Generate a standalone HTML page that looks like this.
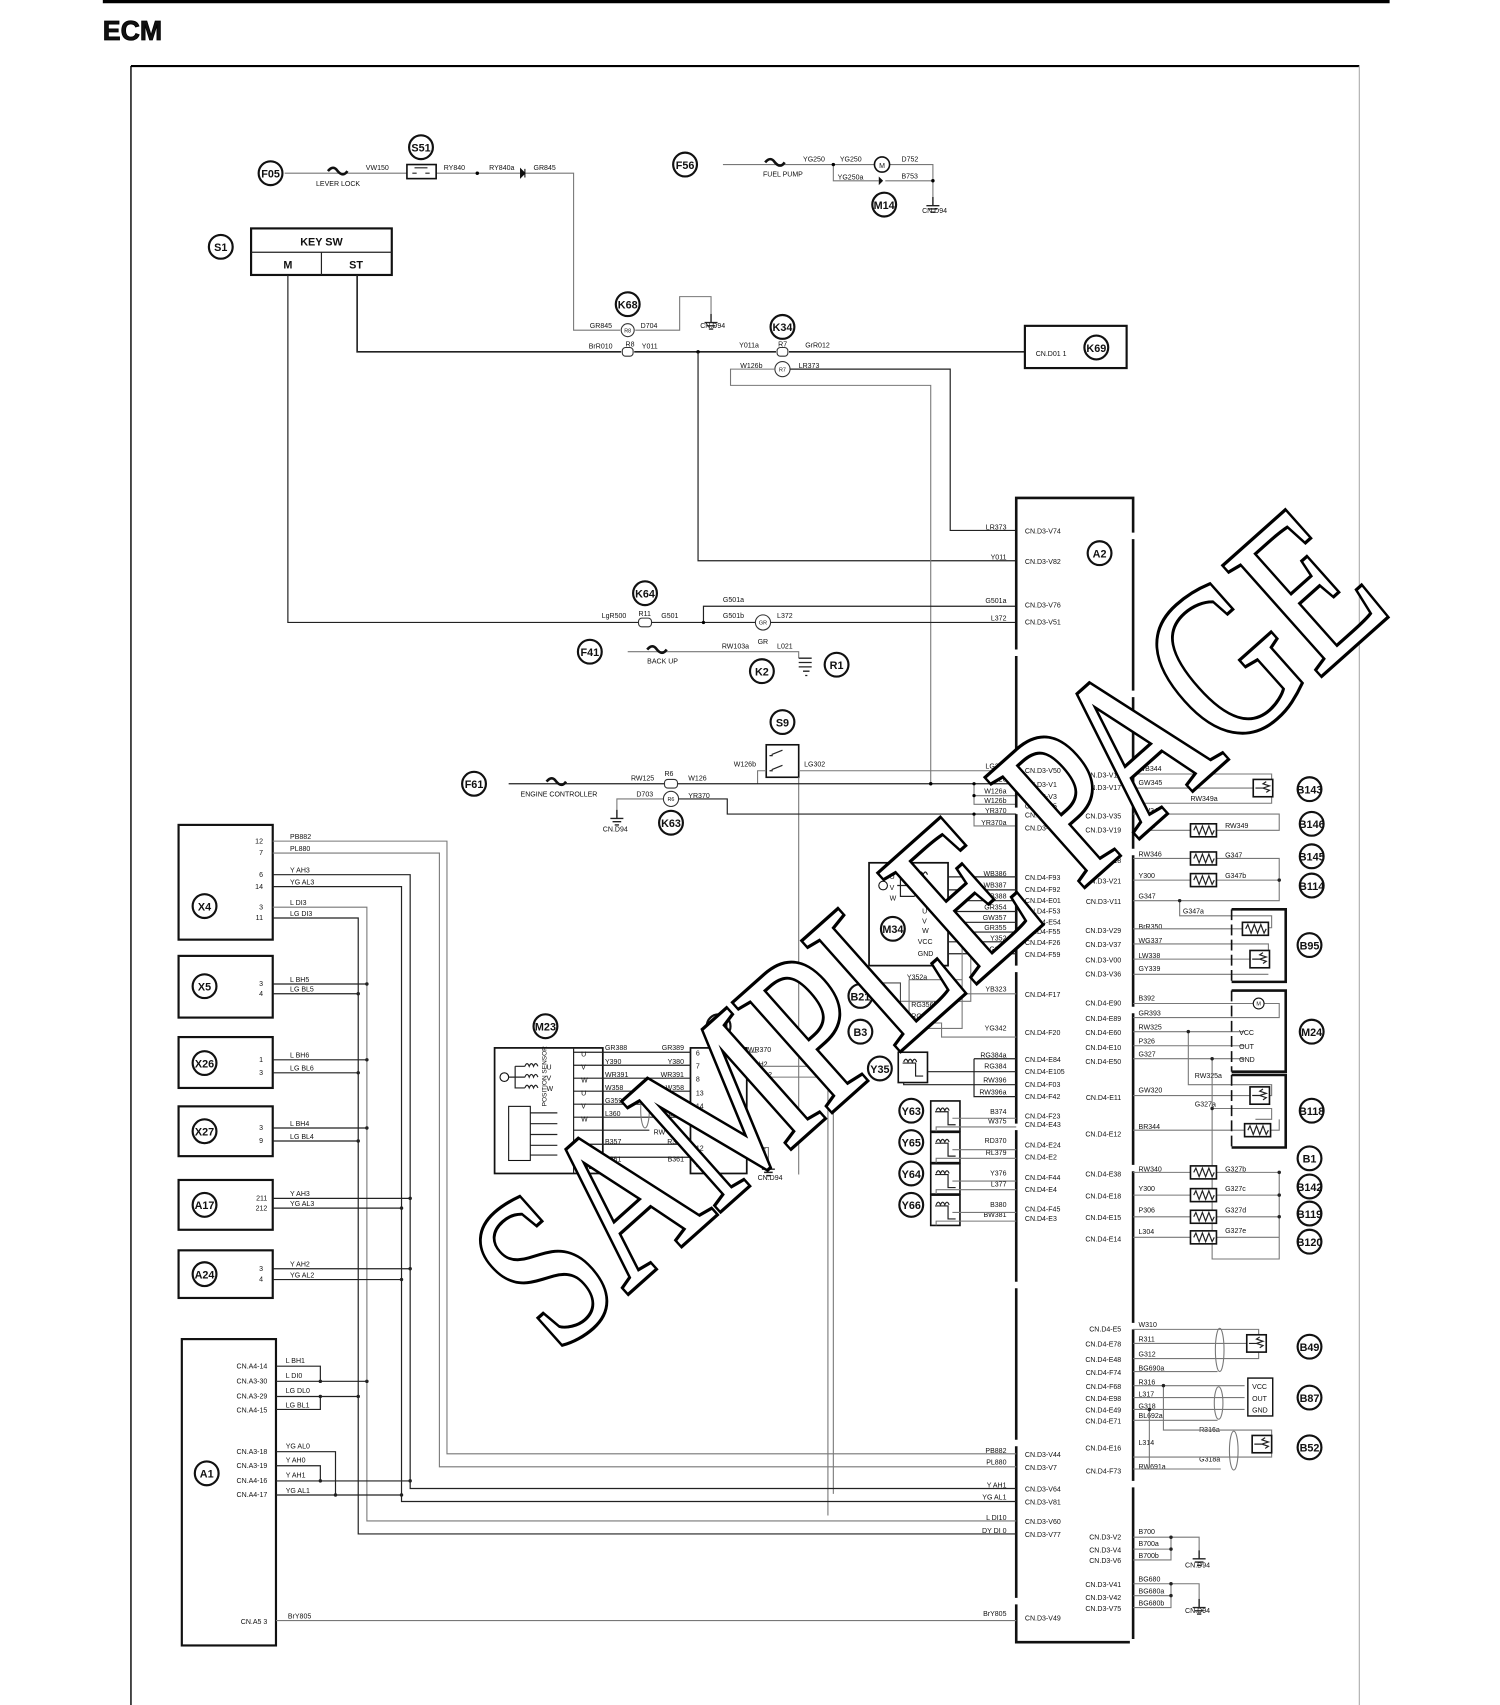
<!DOCTYPE html>
<html><head><meta charset="utf-8"><style>
html,body{margin:0;padding:0;background:#fff}
svg{display:block}
text{font-family:"Liberation Sans",sans-serif;fill:#111}
.s{font-size:6.5px}
.c{font-size:10px;font-weight:bold;text-anchor:middle}
.l{stroke:#222;stroke-width:1.1;fill:none}
.g{stroke:#777;stroke-width:1;fill:none}
.t{stroke:#111;stroke-width:2.4;fill:none}
.r{text-anchor:end}
</style></head><body>
<svg width="1500" height="1705" viewBox="0 0 1386 1575" preserveAspectRatio="none" xmlns="http://www.w3.org/2000/svg">
<defs>
<g id="res"><rect x="0" y="-6" width="24" height="12" fill="#fff" stroke="#111" stroke-width="1.5"/><path d="M3 0 l2 -4 l3 8 l3 -8 l3 8 l3 -8 l3 8 l2-4" class="l"/></g>
<g id="pot"><rect x="0" y="-8" width="18" height="16" fill="#fff" stroke="#111" stroke-width="1.5"/><path d="M12 -6 l-3 2 l6 2 l-6 2 l6 2 l-3 2 M2 0 h8" class="l"/></g>
<g id="sol"><rect x="0" y="0" width="27" height="28" fill="#fff" stroke="#111" stroke-width="1.5"/><path d="M4 10 h12 v12 h7" class="l"/><path d="M5 9 q2-5 4 0 q2-5 4 0 q2-5 4 0" class="l"/></g>
<g id="gnd"><path d="M0 0 v8 M-6 8 h12 M-4 11 h8 M-2 14 h4" stroke="#222" stroke-width="1.3"/></g>
</defs>
<rect x="95" y="0" width="1189" height="3" fill="#000"/>
<text x="95" y="37" style="font-size:26px;font-weight:bold;stroke:#000;stroke-width:0.8" transform="translate(95 0) scale(0.95 1) translate(-95 0)">ECM</text>
<path d="M121 61 H1256" stroke="#000" stroke-width="2"/>
<path d="M121 61 V1575" stroke="#000" stroke-width="1.3"/>
<path d="M1256 61 V1575" stroke="#aaa" stroke-width="1"/>

<!-- top F05 -->
<circle cx="250" cy="160" r="11" fill="#fff" stroke="#111" stroke-width="2"/><text x="250" y="164" class="c">F05</text>
<path d="M263 160 H376 M403 160 H530 V305 H573 M587 305 H628 V274 H657 V290" class="g"/>
<path d="M303 158 q5 -6 9 0 q5 6 9 0" class="t" stroke-width="1.8"/>
<text x="292" y="172" class="s">LEVER LOCK</text><text x="338" y="157" class="s">VW150</text>
<circle cx="389" cy="136" r="11" fill="#fff" stroke="#111" stroke-width="2"/><text x="389" y="140" class="c">S51</text>
<rect x="376" y="152" width="27" height="13" fill="#fff" stroke="#111" stroke-width="1.5"/><path d="M381 160 h4 M397 160 h-4 M383 155 h12" class="l"/>
<text x="410" y="157" class="s">RY840</text><circle cx="441" cy="160" r="1.6"/><text x="452" y="157" class="s">RY840a</text>
<path d="M481 156 v8 l4-4z M485 156 v8" stroke="#111" fill="#111"/><text x="493" y="157" class="s">GR845</text>
<use href="#gnd" x="657" y="290"/><text x="647" y="303" class="s">CN.D94</text>
<circle cx="580" cy="281" r="11" fill="#fff" stroke="#111" stroke-width="2"/><text x="580" y="285" class="c">K68</text>
<circle cx="580" cy="305" r="6" fill="#fff" stroke="#333"/><text x="580" y="307" class="s" style="text-anchor:middle;font-size:5px">R8</text>
<text x="545" y="303" class="s">GR845</text><text x="592" y="303" class="s">D704</text>

<!-- F56 -->
<circle cx="633" cy="152" r="11" fill="#fff" stroke="#111" stroke-width="2"/><text x="633" y="156" class="c">F56</text>
<path d="M668 152 H808 M822 152 H862 V182 M770 152 V167 H812 M818 167 H862" class="g"/>
<path d="M707 150 q5 -6 9 0 q5 6 9 0" class="t" stroke-width="1.8"/>
<text x="705" y="163" class="s">FUEL PUMP</text><text x="742" y="149" class="s">YG250</text><text x="776" y="149" class="s">YG250</text>
<circle cx="815" cy="152" r="7" fill="#fff" stroke="#111" stroke-width="1.5"/><text x="815" y="155" class="s" style="text-anchor:middle">M</text>
<text x="833" y="149" class="s">D752</text><text x="774" y="166" class="s">YG250a</text><text x="833" y="165" class="s">B753</text>
<path d="M812 163 v8 l4-4z" fill="#111"/><circle cx="862" cy="167" r="1.6"/><circle cx="770" cy="152" r="1.6"/>
<use href="#gnd" x="862" y="182"/><text x="852" y="197" class="s">CN.D94</text>
<circle cx="817" cy="189" r="11" fill="#fff" stroke="#111" stroke-width="2"/><text x="817" y="193" class="c">M14</text>

<!-- KEY SW -->
<circle cx="204" cy="228" r="11" fill="#fff" stroke="#111" stroke-width="2"/><text x="204" y="232" class="c">S1</text>
<rect x="232" y="211" width="130" height="43" fill="#fff" stroke="#111" stroke-width="2"/>
<path d="M232 233 H362 M297 233 V254" class="l"/>
<text x="297" y="227" class="c">KEY SW</text><text x="266" y="248" class="c">M</text><text x="329" y="248" class="c">ST</text>
<path d="M330 254 V325 H574 M586 325 H717 M729 325 H947" stroke="#222" stroke-width="1.5" fill="none"/>
<rect x="575" y="321" width="10" height="8" rx="3" fill="#fff" stroke="#333"/><rect x="718" y="321" width="10" height="8" rx="3" fill="#fff" stroke="#333"/>
<text x="544" y="322" class="s">BrR010</text><text x="578" y="320" class="s">R8</text><text x="593" y="322" class="s">Y011</text>
<text x="683" y="321" class="s">Y011a</text><text x="719" y="320" class="s">R7</text><text x="744" y="321" class="s">GrR012</text>
<circle cx="723" cy="302" r="11" fill="#fff" stroke="#111" stroke-width="2"/><text x="723" y="306" class="c">K34</text>
<circle cx="645" cy="325" r="1.6"/>
<path d="M645 325 V518 H939" class="l"/>
<rect x="947" y="301" width="94" height="39" fill="#fff" stroke="#111" stroke-width="2"/>
<text x="957" y="329" class="s">CN.D01 1</text>
<circle cx="1013" cy="321" r="11" fill="#fff" stroke="#111" stroke-width="2"/><text x="1013" y="325" class="c">K69</text>
<circle cx="723" cy="341" r="7" fill="#fff" stroke="#333"/><text x="723" y="343" class="s" style="text-anchor:middle;font-size:5px">R7</text>
<text x="684" y="340" class="s">W126b</text><text x="738" y="340" class="s">LR373</text>
<path d="M716 341 H675 V356 H860 V724" class="g"/>
<path d="M730 341 H878 V490 H939" class="l"/>

<!-- M line K64 -->
<path d="M266 254 V575 H590 M602 575 H699 M711 575 H939" class="l"/>
<path d="M650 575 V560 H939" class="l"/><circle cx="650" cy="575" r="1.5"/>
<circle cx="596" cy="548" r="11" fill="#fff" stroke="#111" stroke-width="2"/><text x="596" y="552" class="c">K64</text>
<rect x="590" y="571" width="12" height="8" rx="3" fill="#fff" stroke="#333"/><text x="590" y="569" class="s">R11</text>
<text x="556" y="571" class="s">LgR500</text><text x="611" y="571" class="s">G501</text>
<text x="668" y="556" class="s">G501a</text><text x="668" y="571" class="s">G501b</text>
<circle cx="705" cy="575" r="7" fill="#fff" stroke="#333"/><text x="705" y="577" class="s" style="text-anchor:middle;font-size:5px">GR</text>
<text x="718" y="571" class="s">L372</text>
<!-- F41 -->
<circle cx="545" cy="602" r="11" fill="#fff" stroke="#111" stroke-width="2"/><text x="545" y="606" class="c">F41</text>
<path d="M580 602 H738 V608" class="g"/>
<path d="M598 600 q5 -6 9 0 q5 6 9 0" class="t" stroke-width="1.8"/>
<text x="598" y="613" class="s">BACK UP</text><text x="667" y="599" class="s">RW103a</text><text x="700" y="595" class="s">GR</text><text x="718" y="599" class="s">L021</text>
<path d="M738 608 h12 M738 612 h12 M738 616 h12 M742 620 h6 M744 624 h2" stroke="#222" stroke-width="1.2"/>
<circle cx="773" cy="614" r="11" fill="#fff" stroke="#111" stroke-width="2"/><text x="773" y="618" class="c">R1</text>
<circle cx="704" cy="620" r="11" fill="#fff" stroke="#111" stroke-width="2"/><text x="704" y="624" class="c">K2</text>

<!-- S9 / F61 -->
<circle cx="723" cy="667" r="11" fill="#fff" stroke="#111" stroke-width="2"/><text x="723" y="671" class="c">S9</text>
<rect x="708" y="688" width="30" height="30" fill="#fff" stroke="#111" stroke-width="1.5"/>
<path d="M713 697 l10 -4 M713 711 l10 -4 M714 698 h-3 M714 712 h-3" class="l"/>
<text x="678" y="708" class="s">W126b</text><text x="743" y="708" class="s">LG302</text>
<path d="M738 712 H939" class="g"/><path d="M738 718 V1085" class="g"/><path d="M708 712 H700 V724" class="g"/>
<circle cx="438" cy="724" r="11" fill="#fff" stroke="#111" stroke-width="2"/><text x="438" y="728" class="c">F61</text>
<path d="M470 724 H614 M626 724 H939" class="l"/>
<path d="M505 722 q5 -6 9 0 q5 6 9 0" class="t" stroke-width="1.8"/>
<text x="481" y="736" class="s">ENGINE CONTROLLER</text><text x="583" y="721" class="s">RW125</text><text x="614" y="717" class="s">R6</text><text x="636" y="721" class="s">W126</text>
<rect x="614" y="720" width="12" height="8" rx="3" fill="#fff" stroke="#333"/>
<circle cx="860" cy="724" r="1.6"/>
<path d="M614 738 H570 V748" class="g"/><use href="#gnd" x="570" y="748"/><text x="557" y="768" class="s">CN.D94</text>
<text x="588" y="736" class="s">D703</text><circle cx="620" cy="738" r="7" fill="#fff" stroke="#333"/><text x="620" y="740" class="s" style="text-anchor:middle;font-size:5px">R6</text>
<text x="636" y="737" class="s">YR370</text>
<path d="M627 738 H672 V752 H939" class="l"/>
<circle cx="620" cy="760" r="11" fill="#fff" stroke="#111" stroke-width="2"/><text x="620" y="764" class="c">K63</text>
<path d="M900 724 V743 H939 M900 735 H939 M900 752 V763 H939" class="g"/><circle cx="900" cy="724" r="1.5"/><circle cx="900" cy="735" r="1.5"/><circle cx="900" cy="752" r="1.5"/>

<!-- ECM A2 -->
<path d="M939 460 V1517 H1047 V460 Z" fill="none" stroke="#111" stroke-width="2.4" stroke-dasharray="140 6"/>
<circle cx="1016" cy="511" r="11" fill="#fff" stroke="#111" stroke-width="2"/><text x="1016" y="515" class="c">A2</text>
<g class="s">
<text x="930" y="489" class="r">LR373</text><text x="947" y="493">CN.D3-V74</text>
<text x="930" y="517" class="r">Y011</text><text x="947" y="521">CN.D3-V82</text>
<text x="930" y="557" class="r">G501a</text><text x="947" y="561">CN.D3-V76</text>
<text x="930" y="573" class="r">L372</text><text x="947" y="577">CN.D3-V51</text>
<text x="930" y="710" class="r">LG302</text><text x="947" y="714">CN.D3-V50</text>
<text x="930" y="722" class="r">W126</text><text x="947" y="727">CN.D3-V1</text>
<text x="930" y="733" class="r">W126a</text><text x="947" y="738">CN.D3-V3</text>
<text x="930" y="742" class="r">W126b</text><text x="947" y="747">CN.D3-V5</text>
<text x="930" y="751" class="r">YR370</text><text x="947" y="755">CN.D3-V9</text>
<text x="930" y="762" class="r">YR370a</text><text x="947" y="767">CN.D3-V92</text>
<text x="930" y="809" class="r">WB386</text><text x="947" y="813">CN.D4-F93</text>
<text x="930" y="820" class="r">WB387</text><text x="947" y="824">CN.D4-F92</text>
<text x="930" y="830" class="r">YB388</text><text x="947" y="834">CN.D4-E01</text>
<text x="930" y="840" class="r">GR354</text><text x="947" y="844">CN.D4-F53</text>
<text x="930" y="850" class="r">GW357</text><text x="947" y="854">CN.D4-E54</text>
<text x="930" y="859" class="r">GR355</text><text x="947" y="863">CN.D4-F55</text>
<text x="930" y="869" class="r">Y352</text><text x="947" y="873">CN.D4-F26</text>
<text x="930" y="879" class="r">G356</text><text x="947" y="884">CN.D4-F59</text>
<text x="930" y="916" class="r">YB323</text><text x="947" y="921">CN.D4-F17</text>
<text x="930" y="952" class="r">YG342</text><text x="947" y="956">CN.D4-F20</text>
<text x="930" y="977" class="r">RG384a</text><text x="947" y="981">CN.D4-E84</text>
<text x="930" y="987" class="r">RG384</text><text x="947" y="992">CN.D4-E105</text>
<text x="930" y="1000" class="r">RW396</text><text x="947" y="1004">CN.D4-F03</text>
<text x="930" y="1011" class="r">RW396a</text><text x="947" y="1015">CN.D4-F42</text>
<text x="930" y="1029" class="r">B374</text><text x="947" y="1033">CN.D4-F23</text>
<text x="930" y="1038" class="r">W375</text><text x="947" y="1041">CN.D4-E43</text>
<text x="930" y="1056" class="r">RD370</text><text x="947" y="1060">CN.D4-E24</text>
<text x="930" y="1067" class="r">RL379</text><text x="947" y="1071">CN.D4-E2</text>
<text x="930" y="1086" class="r">Y376</text><text x="947" y="1090">CN.D4-F44</text>
<text x="930" y="1096" class="r">L377</text><text x="947" y="1101">CN.D4-E4</text>
<text x="930" y="1115" class="r">B380</text><text x="947" y="1119">CN.D4-F45</text>
<text x="930" y="1124" class="r">BW381</text><text x="947" y="1128">CN.D4-E3</text>
<text x="930" y="1342" class="r">PB882</text><text x="947" y="1346">CN.D3-V44</text>
<text x="930" y="1353" class="r">PL880</text><text x="947" y="1358">CN.D3-V7</text>
<text x="930" y="1374" class="r">Y AH1</text><text x="947" y="1378">CN.D3-V64</text>
<text x="930" y="1385" class="r">YG AL1</text><text x="947" y="1390">CN.D3-V81</text>
<text x="930" y="1404" class="r">L DI10</text><text x="947" y="1408">CN.D3-V60</text>
<text x="930" y="1416" class="r">DY DI 0</text><text x="947" y="1420">CN.D3-V77</text>
<text x="930" y="1493" class="r">BrY805</text><text x="947" y="1497">CN.D3-V49</text>
</g>
<!-- right pins -->
<g class="s">
<text x="1036" y="718" class="r">CN.D3-V16</text><text x="1052" y="712">WB344</text>
<text x="1036" y="730" class="r">CN.D3-V17</text><text x="1052" y="725">GW345</text>
<text x="1036" y="756" class="r">CN.D3-V35</text><text x="1052" y="751">RW349</text>
<text x="1036" y="769" class="r">CN.D3-V19</text><text x="1052" y="765">R348</text>
<text x="1036" y="797" class="r">CN.D3-V18</text><text x="1052" y="791">RW346</text>
<text x="1036" y="816" class="r">CN.D3-V21</text><text x="1052" y="811">Y300</text>
<text x="1036" y="835" class="r">CN.D3-V11</text><text x="1052" y="830">G347</text>
<text x="1036" y="862" class="r">CN.D3-V29</text><text x="1052" y="858">BrR350</text>
<text x="1036" y="875" class="r">CN.D3-V37</text><text x="1052" y="871">WG337</text>
<text x="1036" y="889" class="r">CN.D3-V00</text><text x="1052" y="885">LW338</text>
<text x="1036" y="902" class="r">CN.D3-V36</text><text x="1052" y="897">GY339</text>
<text x="1036" y="929" class="r">CN.D4-E90</text><text x="1052" y="924">B392</text>
<text x="1036" y="943" class="r">CN.D4-E89</text><text x="1052" y="938">GR393</text>
<text x="1036" y="956" class="r">CN.D4-E60</text><text x="1052" y="951">RW325</text>
<text x="1036" y="970" class="r">CN.D4-E10</text><text x="1052" y="964">P326</text>
<text x="1036" y="983" class="r">CN.D4-E50</text><text x="1052" y="976">G327</text>
<text x="1036" y="1016" class="r">CN.D4-E11</text><text x="1052" y="1009">GW320</text>
<text x="1036" y="1050" class="r">CN.D4-E12</text><text x="1052" y="1043">BR344</text>
<text x="1036" y="1087" class="r">CN.D4-E38</text><text x="1052" y="1082">RW340</text>
<text x="1036" y="1107" class="r">CN.D4-E18</text><text x="1052" y="1100">Y300</text>
<text x="1036" y="1127" class="r">CN.D4-E15</text><text x="1052" y="1120">P306</text>
<text x="1036" y="1147" class="r">CN.D4-E14</text><text x="1052" y="1140">L304</text>
<text x="1036" y="1230" class="r">CN.D4-E5</text><text x="1052" y="1226">W310</text>
<text x="1036" y="1244" class="r">CN.D4-E78</text><text x="1052" y="1239">R311</text>
<text x="1036" y="1258" class="r">CN.D4-E48</text><text x="1052" y="1253">G312</text>
<text x="1036" y="1270" class="r">CN.D4-F74</text><text x="1052" y="1266">BG690a</text>
<text x="1036" y="1283" class="r">CN.D4-F68</text><text x="1052" y="1279">R316</text>
<text x="1036" y="1294" class="r">CN.D4-E98</text><text x="1052" y="1290">L317</text>
<text x="1036" y="1305" class="r">CN.D4-E49</text><text x="1052" y="1301">G318</text>
<text x="1036" y="1315" class="r">CN.D4-E71</text><text x="1052" y="1310">BL692a</text>
<text x="1036" y="1340" class="r">CN.D4-E16</text><text x="1052" y="1335">L314</text>
<text x="1036" y="1361" class="r">CN.D4-F73</text><text x="1052" y="1357">RW691a</text>
<text x="1036" y="1422" class="r">CN.D3-V2</text><text x="1052" y="1417">B700</text>
<text x="1036" y="1434" class="r">CN.D3-V4</text><text x="1052" y="1428">B700a</text>
<text x="1036" y="1444" class="r">CN.D3-V6</text><text x="1052" y="1439">B700b</text>
<text x="1036" y="1466" class="r">CN.D3-V41</text><text x="1052" y="1461">BG680</text>
<text x="1036" y="1478" class="r">CN.D3-V42</text><text x="1052" y="1472">BG680a</text>
<text x="1036" y="1488" class="r">CN.D3-V75</text><text x="1052" y="1483">BG680b</text>
<text x="1100" y="740" >RW349a</text><text x="1132" y="765">RW349</text><text x="1132" y="792">G347</text><text x="1132" y="811">G347b</text>
<text x="1093" y="844">G347a</text><text x="1104" y="996">RW325a</text><text x="1104" y="1022">G327a</text>
<text x="1132" y="1082">G327b</text><text x="1132" y="1100">G327c</text><text x="1132" y="1120">G327d</text><text x="1132" y="1139">G327e</text>
<text x="1108" y="1323">R316a</text><text x="1108" y="1350">G318a</text>
<text x="1095" y="1448">CN.D94</text><text x="1095" y="1490">CN.D94</text>
</g>
<!-- right wiring -->
<g class="g">
<path d="M1047 715 H1175 V742 H1047 M1047 728 H1158"/>
<path d="M1047 752 H1182 V767 H1124 M1100 767 H1047"/>
<path d="M1047 793 H1100 M1124 793 H1182 V832 H1047 M1047 813 H1100 M1124 813 H1182"/>
<path d="M1090 832 V846 H1175 V857 H1160"/>
<path d="M1047 858 H1148 M1047 872 H1172 V886 M1047 886 H1160 M1047 900 H1172"/>
<path d="M1047 927 H1160 M1168 927 H1182 V940 H1047 M1047 953 H1150 M1047 966 H1150 M1047 978 H1150"/>
<path d="M1098 953 V1002 H1175 V1012 H1047 M1120 978 V1163 H1182 V1143 M1120 1024 H1175 V1034 H1160 M1047 1044 H1150 M1160 1044 H1182 V1034"/>
<path d="M1047 1083 H1100 M1124 1083 H1182 M1047 1104 H1100 M1124 1104 H1182 M1047 1124 H1100 M1124 1124 H1182 M1047 1143 H1100 M1124 1143 H1182 M1182 1083 V1143"/>
<path d="M1047 1228 H1163 V1255 H1047 M1047 1241 H1152 M1047 1267 H1125"/>
<path d="M1047 1280 H1150 M1047 1291 H1150 M1047 1302 H1150 M1047 1312 H1125 M1075 1280 V1321 H1175 V1346 H1047 M1062 1302 V1356 M1047 1357 H1128"/>
<path d="M1047 1420 H1082 V1441 H1047 M1047 1431 H1082 M1082 1420 H1108 V1432 M1047 1463 H1082 V1485 H1047 M1047 1474 H1082 M1082 1463 H1108 V1477"/>
</g>
<g fill="#222"><circle cx="1182" cy="813" r="1.6"/><circle cx="1090" cy="832" r="1.6"/><circle cx="1098" cy="953" r="1.6"/><circle cx="1120" cy="978" r="1.6"/><circle cx="1120" cy="1024" r="1.6"/><circle cx="1182" cy="1083" r="1.6"/><circle cx="1182" cy="1104" r="1.6"/><circle cx="1182" cy="1124" r="1.6"/><circle cx="1075" cy="1280" r="1.6"/><circle cx="1062" cy="1302" r="1.6"/><circle cx="1082" cy="1420" r="1.6"/><circle cx="1082" cy="1431" r="1.6"/><circle cx="1082" cy="1463" r="1.6"/><circle cx="1082" cy="1474" r="1.6"/></g>
<use href="#gnd" x="1108" y="1432"/><use href="#gnd" x="1108" y="1477"/>
<use href="#pot" x="1158" y="728"/><use href="#res" x="1100" y="767"/><use href="#res" x="1100" y="793"/><use href="#res" x="1100" y="813"/>
<use href="#res" x="1148" y="858"/><use href="#pot" x="1155" y="886"/>
<use href="#pot" x="1155" y="1012"/><use href="#res" x="1150" y="1044"/>
<use href="#res" x="1100" y="1083"/><use href="#res" x="1100" y="1104"/><use href="#res" x="1100" y="1124"/><use href="#res" x="1100" y="1143"/>
<use href="#pot" x="1152" y="1241"/><use href="#pot" x="1157" y="1334"/>
<ellipse cx="1127" cy="1247" rx="4" ry="20" class="g"/><ellipse cx="1126" cy="1296" rx="4" ry="15" class="g"/><ellipse cx="1140" cy="1340" rx="4" ry="18" class="g"/>
<rect x="1153" y="1273" width="23" height="35" fill="#fff" stroke="#111" stroke-width="1.3"/>
<text x="1157" y="1283" class="s">VCC</text><text x="1157" y="1294" class="s">OUT</text><text x="1157" y="1305" class="s">GND</text>
<path d="M1138 840 H1188 V907 H1138 M1138 915 H1188 V990 H1138 M1138 993 H1188 V1060 H1138" class="t" stroke-width="2"/>
<path d="M1138 840 V907 M1138 915 V990 M1138 993 V1060" stroke="#111" stroke-width="1.5" stroke-dasharray="10 4"/>
<circle cx="1163" cy="927" r="5" fill="#fff" stroke="#111"/><text x="1163" y="929" class="s" style="text-anchor:middle;font-size:5px">M</text>
<text x="1145" y="956" class="s">VCC</text><text x="1145" y="969" class="s">OUT</text><text x="1145" y="981" class="s">GND</text>
<g>
<circle cx="1210" cy="729" r="11" fill="#fff" stroke="#111" stroke-width="2"/><text x="1210" y="733" class="c">B143</text>
<circle cx="1212" cy="761" r="11" fill="#fff" stroke="#111" stroke-width="2"/><text x="1212" y="765" class="c">B146</text>
<circle cx="1212" cy="791" r="11" fill="#fff" stroke="#111" stroke-width="2"/><text x="1212" y="795" class="c">B145</text>
<circle cx="1212" cy="818" r="11" fill="#fff" stroke="#111" stroke-width="2"/><text x="1212" y="822" class="c">B114</text>
<circle cx="1210" cy="873" r="11" fill="#fff" stroke="#111" stroke-width="2"/><text x="1210" y="877" class="c">B95</text>
<circle cx="1212" cy="953" r="11" fill="#fff" stroke="#111" stroke-width="2"/><text x="1212" y="957" class="c">M24</text>
<circle cx="1212" cy="1026" r="11" fill="#fff" stroke="#111" stroke-width="2"/><text x="1212" y="1030" class="c">B118</text>
<circle cx="1210" cy="1070" r="11" fill="#fff" stroke="#111" stroke-width="2"/><text x="1210" y="1074" class="c">B1</text>
<circle cx="1210" cy="1096" r="11" fill="#fff" stroke="#111" stroke-width="2"/><text x="1210" y="1100" class="c">B142</text>
<circle cx="1210" cy="1121" r="11" fill="#fff" stroke="#111" stroke-width="2"/><text x="1210" y="1125" class="c">B119</text>
<circle cx="1210" cy="1147" r="11" fill="#fff" stroke="#111" stroke-width="2"/><text x="1210" y="1151" class="c">B120</text>
<circle cx="1210" cy="1244" r="11" fill="#fff" stroke="#111" stroke-width="2"/><text x="1210" y="1248" class="c">B49</text>
<circle cx="1210" cy="1291" r="11" fill="#fff" stroke="#111" stroke-width="2"/><text x="1210" y="1295" class="c">B87</text>
<circle cx="1210" cy="1337" r="11" fill="#fff" stroke="#111" stroke-width="2"/><text x="1210" y="1341" class="c">B52</text>
</g>

<!-- M34 etc -->
<rect x="803" y="797" width="73" height="95" fill="#fff" stroke="#111" stroke-width="1.6"/>
<path d="M876 810 H939 M876 822 H939 M876 832 H939 M876 842 H939 M876 852 H939 M876 861 H939 M876 870 H939 M876 881 H939" class="l"/>
<path d="M845 808 q2-5 4 0 q2-5 4 0 q2-5 4 0 M845 818 q2-5 4 0 q2-5 4 0 q2-5 4 0 M845 828 q2-5 4 0 q2-5 4 0 q2-5 4 0 M829 818 h16 M832 808 v20 h13 M832 808 h13" class="l"/>
<circle cx="816" cy="818" r="4" fill="#fff" stroke="#111"/>
<g class="s"><text x="822" y="812">U</text><text x="822" y="822">V</text><text x="822" y="832">W</text><text x="852" y="844">U</text><text x="852" y="853">V</text><text x="852" y="862">W</text><text x="848" y="872">VCC</text><text x="848" y="883">GND</text></g>
<circle cx="825" cy="858" r="11" fill="#fff" stroke="#111" stroke-width="2"/><text x="825" y="862" class="c">M34</text>
<path d="M889 870 V950 H838 V935 M897 881 V925 H832 M840 905 H889 V918 H939 M840 905 V945 H870 V958 H939" class="g"/>
<text x="838" y="905" class="s">Y352a</text><text x="842" y="930" class="s">RG356b</text><text x="842" y="941" class="s">RG356a</text>
<rect x="812" y="908" width="20" height="22" fill="none" stroke="#444"/>
<circle cx="795" cy="920" r="11" fill="#fff" stroke="#111" stroke-width="2"/><text x="795" y="924" class="c">B21</text>
<circle cx="795" cy="953" r="11" fill="#fff" stroke="#111" stroke-width="2"/><text x="795" y="957" class="c">B3</text>
<circle cx="813" cy="987" r="11" fill="#fff" stroke="#111" stroke-width="2"/><text x="813" y="991" class="c">Y35</text>
<use href="#sol" x="830" y="972"/>
<path d="M857 990 H939 M900 978 V1013 H939 M900 978 H939 M835 1000 V1002 H939" class="l"/>
<use href="#sol" x="860" y="1017"/><use href="#sol" x="860" y="1046"/><use href="#sol" x="860" y="1075"/><use href="#sol" x="860" y="1104"/>
<path d="M880 1033 H939 M865 1045 V1041 H939 M880 1062 H939 M865 1074 V1070 H939 M880 1091 H939 M865 1103 V1099 H939 M880 1120 H939 M865 1132 V1128 H939" class="g"/>
<circle cx="842" cy="1026" r="11" fill="#fff" stroke="#111" stroke-width="2"/><text x="842" y="1030" class="c">Y63</text>
<circle cx="842" cy="1055" r="11" fill="#fff" stroke="#111" stroke-width="2"/><text x="842" y="1059" class="c">Y65</text>
<circle cx="842" cy="1084" r="11" fill="#fff" stroke="#111" stroke-width="2"/><text x="842" y="1088" class="c">Y64</text>
<circle cx="842" cy="1113" r="11" fill="#fff" stroke="#111" stroke-width="2"/><text x="842" y="1117" class="c">Y66</text>

<!-- M23 / A24 -->
<rect x="457" y="968" width="100" height="116" fill="#fff" stroke="#111" stroke-width="1.6"/>
<path d="M530 968 V1084" class="l"/>
<rect x="638" y="968" width="52" height="116" fill="#fff" stroke="#111" stroke-width="1.6"/>
<circle cx="504" cy="948" r="11" fill="#fff" stroke="#111" stroke-width="2"/><text x="504" y="952" class="c">M23</text>
<circle cx="664" cy="948" r="11" fill="#fff" stroke="#111" stroke-width="2"/><text x="664" y="952" class="c">A24</text>
<path d="M530 972 H638 M530 984 H638 M530 996 H638 M530 1008 H638 M530 1020 H638 M530 1032 H638 M530 1044 H600 M530 1057 H638 M530 1069 H638" class="l"/>
<ellipse cx="596" cy="1025" rx="4" ry="17" class="g"/>
<g class="s">
<text x="537" y="976">U</text><text x="537" y="988">V</text><text x="537" y="1000">W</text><text x="537" y="1012">U</text><text x="537" y="1024">V</text><text x="537" y="1036">W</text><text x="534" y="1068">VCC</text><text x="534" y="1080">GND</text>
<text x="559" y="970">GR388</text><text x="559" y="983">Y390</text><text x="559" y="995">WR391</text><text x="559" y="1007">W358</text><text x="559" y="1019">G359</text><text x="559" y="1031">L360</text><text x="559" y="1057">B357</text><text x="559" y="1073">B361</text>
<text x="632" y="970" class="r">GR389</text><text x="632" y="983" class="r">Y380</text><text x="632" y="995" class="r">WR391</text><text x="632" y="1007" class="r">W358</text><text x="632" y="1019" class="r">G358</text><text x="632" y="1031" class="r">L360</text><text x="632" y="1057" class="r">R357</text><text x="632" y="1073" class="r">B361</text>
<text x="643" y="975">6</text><text x="643" y="987">7</text><text x="643" y="999">8</text><text x="643" y="1012">13</text><text x="643" y="1024">14</text><text x="643" y="1037">15</text><text x="643" y="1063">12</text><text x="643" y="1078">16</text>
<text x="604" y="1048">RW</text>
<text x="691" y="972">WR370</text><text x="691" y="985">Y AH2</text><text x="691" y="995">YG AL2</text><text x="693" y="1064">Y70c</text><text x="700" y="1090">CN.D94</text>
<text x="503" y="1070" transform="rotate(-90 480 1045)" style="font-size:6px">POSITION SENSOR</text>
</g>
<rect x="470" y="1022" width="20" height="50" fill="#fff" stroke="#111"/>
<path d="M490 1028 H515 M490 1038 H515 M490 1048 H515 M490 1058 H515 M490 1067 H515" class="l"/>
<path d="M485 985 q2-5 4 0 q2-5 4 0 q2-5 4 0 M485 995 q2-5 4 0 q2-5 4 0 q2-5 4 0 M485 1005 q2-5 4 0 q2-5 4 0 q2-5 4 0 M470 995 h15 M476 985 v20 h9 M476 985 h9" class="l"/>
<circle cx="466" cy="995" r="4" fill="#fff" stroke="#111"/>
<g class="s"><text x="505" y="988">U</text><text x="505" y="998">V</text><text x="505" y="1008">W</text></g>
<path d="M690 985 H765 V1400 M690 995 H770 V1380 M690 972 H700 M690 1060 H710 V1072" class="g"/>
<use href="#gnd" x="710" y="1072"/>

<!-- Left connectors -->
<g fill="#fff" stroke="#111" stroke-width="2">
<rect x="165" y="762" width="87" height="106"/><rect x="165" y="883" width="87" height="57"/><rect x="165" y="958" width="87" height="47"/><rect x="165" y="1022" width="87" height="46"/><rect x="165" y="1090" width="87" height="46"/><rect x="165" y="1155" width="87" height="44"/><rect x="168" y="1237" width="87" height="283"/>
</g>
<g>
<circle cx="189" cy="837" r="11" fill="#fff" stroke="#111" stroke-width="2"/><text x="189" y="841" class="c">X4</text>
<circle cx="189" cy="911" r="11" fill="#fff" stroke="#111" stroke-width="2"/><text x="189" y="915" class="c">X5</text>
<circle cx="189" cy="982" r="11" fill="#fff" stroke="#111" stroke-width="2"/><text x="189" y="986" class="c">X26</text>
<circle cx="189" cy="1045" r="11" fill="#fff" stroke="#111" stroke-width="2"/><text x="189" y="1049" class="c">X27</text>
<circle cx="189" cy="1113" r="11" fill="#fff" stroke="#111" stroke-width="2"/><text x="189" y="1117" class="c">A17</text>
<circle cx="189" cy="1177" r="11" fill="#fff" stroke="#111" stroke-width="2"/><text x="189" y="1181" class="c">A24</text>
<circle cx="191" cy="1361" r="11" fill="#fff" stroke="#111" stroke-width="2"/><text x="191" y="1365" class="c">A1</text>
</g>
<g class="s">
<text x="243" y="779" class="r">12</text><text x="243" y="790" class="r">7</text><text x="243" y="810" class="r">6</text><text x="243" y="821" class="r">14</text><text x="243" y="840" class="r">3</text><text x="243" y="850" class="r">11</text>
<text x="268" y="775">PB882</text><text x="268" y="786">PL880</text><text x="268" y="806">Y AH3</text><text x="268" y="817">YG AL3</text><text x="268" y="836">L DI3</text><text x="268" y="846">LG DI3</text>
<text x="243" y="911" class="r">3</text><text x="243" y="920" class="r">4</text><text x="268" y="907">L BH5</text><text x="268" y="916">LG BL5</text>
<text x="243" y="981" class="r">1</text><text x="243" y="993" class="r">3</text><text x="268" y="977">L BH6</text><text x="268" y="989">LG BL6</text>
<text x="243" y="1044" class="r">3</text><text x="243" y="1056" class="r">9</text><text x="268" y="1040">L BH4</text><text x="268" y="1052">LG BL4</text>
<text x="247" y="1109" class="r">211</text><text x="247" y="1118" class="r">212</text><text x="268" y="1105">Y AH3</text><text x="268" y="1114">YG AL3</text>
<text x="243" y="1174" class="r">3</text><text x="243" y="1184" class="r">4</text><text x="268" y="1170">Y AH2</text><text x="268" y="1180">YG AL2</text>
<text x="247" y="1264" class="r">CN.A4-14</text><text x="247" y="1278" class="r">CN.A3-30</text><text x="247" y="1292" class="r">CN.A3-29</text><text x="247" y="1305" class="r">CN.A4-15</text>
<text x="247" y="1343" class="r">CN.A3-18</text><text x="247" y="1356" class="r">CN.A3-19</text><text x="247" y="1370" class="r">CN.A4-16</text><text x="247" y="1383" class="r">CN.A4-17</text><text x="247" y="1500" class="r">CN.A5 3</text>
<text x="264" y="1259">L BH1</text><text x="264" y="1273">L DI0</text><text x="264" y="1287">LG DL0</text><text x="264" y="1300">LG BL1</text>
<text x="264" y="1338">YG AL0</text><text x="264" y="1351">Y AH0</text><text x="264" y="1365">Y AH1</text><text x="264" y="1379">YG AL1</text><text x="266" y="1495">BrY805</text>
</g>
<g class="l">
<path d="M252 777 H413 V1343 H939" class="g"/><path d="M252 788 H406 V1355 H939" class="g"/>
<path d="M252 808 H379 V1375 H939"/><path d="M252 819 H371 V1387 H939"/>
<path d="M252 838 H339 V1405 H939" class="g"/><path d="M252 848 H331 V1417 H939"/>
<path d="M252 909 H339 M252 918 H331 M252 979 H339 M252 991 H331 M252 1042 H339 M252 1054 H331"/>
<path d="M252 1107 H379 M252 1116 H371 M252 1172 H379 M252 1182 H371"/>
<path d="M255 1262 H296 V1276 H255 M296 1276 H339 M255 1290 H296 V1302 H255 M296 1290 H331"/>
<path d="M255 1341 H310 V1381 H255 M255 1354 H296 V1368 H255 M296 1368 H379 M310 1381 H371"/>
<path d="M255 1497 H939" class="g"/>
</g>
<g fill="#222">
<circle cx="339" cy="909" r="1.6"/><circle cx="331" cy="918" r="1.6"/><circle cx="339" cy="979" r="1.6"/><circle cx="331" cy="991" r="1.6"/><circle cx="339" cy="1042" r="1.6"/><circle cx="331" cy="1054" r="1.6"/>
<circle cx="379" cy="1107" r="1.6"/><circle cx="371" cy="1116" r="1.6"/><circle cx="379" cy="1172" r="1.6"/><circle cx="371" cy="1182" r="1.6"/>
<circle cx="296" cy="1276" r="1.6"/><circle cx="339" cy="1276" r="1.6"/><circle cx="296" cy="1290" r="1.6"/><circle cx="331" cy="1290" r="1.6"/>
<circle cx="296" cy="1368" r="1.6"/><circle cx="379" cy="1368" r="1.6"/><circle cx="310" cy="1381" r="1.6"/><circle cx="371" cy="1381" r="1.6"/>
</g>

<!-- watermark -->
<text x="0" y="0" transform="translate(515 1252) rotate(-41.7)" textLength="1035" lengthAdjust="spacingAndGlyphs" style="font-family:'Liberation Serif',serif;font-size:205px;fill:#fff;stroke:#000;stroke-width:6;paint-order:stroke">SAMPLE PAGE</text>
</svg>
</body></html>
